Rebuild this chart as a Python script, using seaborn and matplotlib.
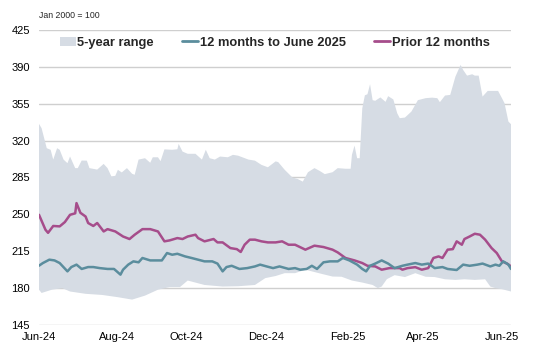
import numpy as np
import pandas as pd
import matplotlib
matplotlib.use("Agg")
import matplotlib.pyplot as plt
import seaborn as sns
from matplotlib.patches import Patch
from matplotlib.lines import Line2D

# ---- data (days since 1 Jun 2024, index Jan 2000 = 100) ----
cur_days = [0, 3, 8, 12, 16, 22, 25, 29, 33, 38, 42, 47, 53, 58, 63, 65, 69, 73, 77, 80,
            86, 92, 95, 99, 103, 107, 113, 118, 123, 128, 134, 138, 142, 145, 149, 155, 161,
            167, 171, 176, 181, 186, 193, 198, 202, 207, 211, 215, 220, 225, 231, 235, 240,
            246, 250, 253, 256, 260, 265, 270, 275, 281, 285, 291, 296, 301, 306, 312, 316,
            323, 328, 333, 339, 343, 349, 353, 356, 359, 363, 365]
cur_vals = [201.3, 203.8, 207.0, 206.3, 203.8, 195.9, 200.0, 202.3, 198.2, 200.0, 200.0, 199.0,
            198.2, 198.2, 192.8, 197.5, 202.3, 205.4, 204.5, 208.6, 206.3, 206.3, 206.3, 213.3,
            211.7, 212.6, 210.1, 208.6, 207.0, 205.4, 205.4, 203.3, 195.9, 200.0, 201.2, 198.2,
            199.0, 200.6, 202.3, 200.6, 199.0, 200.6, 198.2, 199.0, 197.5, 198.2, 201.2, 198.2,
            204.5, 205.4, 205.4, 208.6, 206.3, 202.3, 198.2, 195.9, 201.2, 203.3, 206.3, 203.3,
            199.0, 201.2, 202.3, 203.8, 202.3, 203.3, 199.0, 200.0, 198.2, 197.2, 202.3, 201.2,
            202.3, 203.3, 200.6, 202.3, 201.2, 205.4, 202.3, 198.2]

prior_days = [0, 5, 7, 11, 16, 20, 24, 28, 29, 32, 36, 38, 42, 45, 50, 53, 59, 65, 70, 74,
              80, 86, 92, 97, 101, 107, 111, 115, 121, 123, 128, 135, 138, 142, 148, 153, 156,
              159, 163, 167, 172, 177, 183, 188, 193, 198, 206, 213, 220, 227, 231, 237, 244,
              250, 254, 260, 265, 271, 279, 281, 285, 291, 296, 301, 305, 309, 312, 316, 320,
              323, 327, 329, 333, 337, 341, 345, 350, 354, 358, 362, 365]
prior_vals = [249.6, 235.4, 232.5, 239.0, 238.6, 242.7, 249.6, 251.0, 260.7, 251.5, 248.0, 241.8,
              239.0, 241.8, 233.8, 236.0, 233.8, 229.0, 226.6, 230.7, 236.0, 236.0, 233.8, 224.4,
              225.3, 227.5, 226.6, 229.0, 230.7, 227.5, 224.4, 226.6, 223.4, 223.4, 218.0, 217.0,
              214.3, 221.2, 226.0, 226.0, 224.4, 223.4, 223.4, 224.4, 221.2, 221.2, 216.5, 220.3,
              219.0, 216.5, 213.9, 208.6, 206.3, 203.8, 201.2, 200.6, 197.5, 199.0, 199.0, 197.5,
              199.0, 199.9, 197.5, 199.0, 208.6, 210.1, 208.6, 216.5, 217.0, 224.4, 221.2, 226.6,
              229.0, 231.6, 230.7, 226.0, 218.0, 213.3, 205.4, 203.3, 200.6]

hi_days = [0, 2, 6, 9, 11, 14, 16, 19, 22, 24, 28, 30, 33, 37, 39, 45, 50, 53, 56, 59, 61, 64,
           68, 72, 74, 77, 82, 86, 88, 92, 94, 97, 103, 107, 108, 111, 115, 121, 126, 129, 132,
           136, 140, 146, 150, 154, 162, 167, 172, 177, 183, 185, 190, 196, 200, 204, 208, 213,
           217, 221, 227, 231, 237, 241, 242, 244, 246, 248, 250, 252, 254, 256, 258, 260, 264,
           268, 270, 274, 277, 279, 283, 288, 293, 299, 304, 308, 310, 314, 318, 322, 326, 328,
           331, 335, 337, 340, 343, 347, 351, 355, 358, 360, 363, 365]
hi_vals = [335.9, 331.8, 312.8, 311.3, 302.0, 312.8, 311.3, 302.0, 298.6, 304.9, 293.9, 293.9,
           301.1, 301.0, 293.9, 292.5, 297.9, 293.9, 286.0, 286.6, 292.3, 289.8, 293.9, 288.5,
           287.6, 302.0, 303.3, 299.0, 304.2, 304.2, 300.5, 311.7, 311.3, 311.8, 316.9, 309.6,
           307.5, 307.5, 302.0, 311.3, 303.3, 302.0, 304.9, 304.2, 306.5, 305.7, 302.0, 301.0,
           297.0, 294.7, 300.3, 299.6, 292.3, 285.0, 283.6, 281.1, 290.0, 293.9, 291.3, 288.2,
           290.0, 293.9, 293.3, 293.3, 306.5, 315.3, 303.3, 303.3, 350.7, 363.0, 364.0, 373.5,
           358.4, 357.8, 361.0, 356.8, 362.2, 359.1, 346.0, 341.3, 341.9, 347.6, 358.4, 360.3,
           360.8, 360.3, 356.5, 362.8, 363.4, 380.7, 391.8, 387.1, 381.7, 383.0, 381.7, 381.7,
           361.8, 367.2, 367.2, 367.2, 360.3, 355.5, 338.1, 335.6]

lo_days = [0, 2, 10, 18, 24, 36, 49, 61, 72, 82, 92, 101, 109, 115, 128, 142, 154, 167, 175,
           183, 190, 198, 206, 211, 219, 227, 234, 242, 250, 258, 262, 265, 269, 275, 283, 291,
           299, 306, 314, 322, 329, 337, 345, 349, 353, 358, 365]
lo_vals = [178.5, 175.4, 178.5, 180.0, 176.8, 174.6, 173.5, 171.4, 169.1, 172.9, 178.5, 181.0,
           181.0, 187.2, 183.0, 181.5, 181.8, 183.0, 189.5, 191.5, 194.2, 194.2, 197.5, 195.9,
           193.4, 191.0, 190.8, 187.2, 185.3, 183.0, 180.0, 181.5, 188.5, 192.3, 190.5, 194.2,
           190.8, 190.5, 188.4, 187.8, 188.4, 187.8, 188.4, 181.5, 180.0, 179.0, 176.8]

tick_days = [0, 60, 114, 176, 239, 297, 358]
tick_labels = ["Jun-24", "Aug-24", "Oct-24", "Dec-24", "Feb-25", "Apr-25", "Jun-25"]
y_ticks = [145, 180, 215, 250, 285, 320, 355, 390, 425]

# ---- style ----
sns.set_theme(style="white")
plt.rcParams["font.family"] = ["Liberation Sans", "DejaVu Sans"]

BAND = "#d6dce4"
TEAL = "#5b8d9d"
PINK = "#a64d8b"
GRID = "#cfcfcf"

fig = plt.figure(figsize=(5.33, 3.48), dpi=100)
ax = fig.add_axes([39 / 533, 1 - 325 / 348, 472 / 533, 295 / 348])

# band polygon
poly_x = list(hi_days) + list(lo_days[::-1])
poly_y = list(hi_vals) + list(lo_vals[::-1])
ax.fill(poly_x, poly_y, color=BAND, lw=0, zorder=1)

cur_df = pd.DataFrame({"day": cur_days, "value": cur_vals})
prior_df = pd.DataFrame({"day": prior_days, "value": prior_vals})
sns.lineplot(data=prior_df, x="day", y="value", ax=ax, color=PINK, lw=1.8, zorder=3)
sns.lineplot(data=cur_df, x="day", y="value", ax=ax, color=TEAL, lw=1.8, zorder=3)

ax.set_xlim(0, 365)
ax.set_ylim(145, 425)
ax.set_yticks(y_ticks)
ax.set_xticks(tick_days)
ax.set_xticklabels(tick_labels)
ax.set_xlabel("")
ax.set_ylabel("")
ax.yaxis.grid(True, color=GRID, lw=1.0)
ax.xaxis.grid(False)
ax.set_axisbelow(True)
for s in ax.spines.values():
    s.set_visible(False)
ax.tick_params(axis="both", length=0, labelsize=8, colors="#000000")
ax.tick_params(axis="y", pad=6.5)
ax.tick_params(axis="x", pad=5)

fig.text(39 / 533, 1 - 16 / 348, "Jan 2000 = 100", fontsize=6.3, va="center", ha="left")

handles = [Patch(facecolor=BAND, edgecolor="none", label="5-year range"),
           Line2D([0], [0], color=TEAL, lw=2, label="12 months to June 2025"),
           Line2D([0], [0], color=PINK, lw=2, label="Prior 12 months")]
leg = fig.legend(handles=handles, loc="center left", bbox_to_anchor=(60 / 533, 1 - 43 / 348),
                 ncol=3, frameon=False, prop={"weight": "bold", "size": 9.3},
                 handlelength=1.2, handletextpad=0.15, columnspacing=2.2,
                 borderpad=0, borderaxespad=0)

fig.savefig("out.png", dpi=100)
